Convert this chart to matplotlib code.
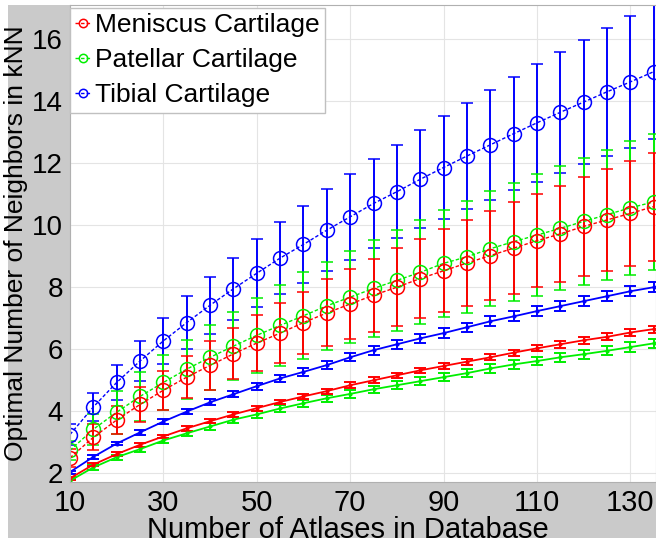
import numpy as np
import matplotlib
matplotlib.use('Agg')
import matplotlib.pyplot as plt
from matplotlib.patches import Rectangle

plt.rcParams['font.family'] = ['Liberation Sans', 'DejaVu Sans']

atlases = [10, 15, 20, 25, 30, 35, 40, 45, 50, 55, 60, 65, 70, 75, 80,
           85, 90, 95, 100, 105, 110, 115, 120, 125, 130, 135]

# kNN neighbours found when atlases are selected by the cartilage label
men_mean = [2.5, 3.16, 3.72, 4.22, 4.68, 5.1, 5.48, 5.85, 6.2, 6.52, 6.86, 7.17, 7.46,
            7.74, 8.0, 8.28, 8.53, 8.78, 9.02, 9.26, 9.5, 9.72, 9.96, 10.17, 10.38, 10.6]
men_std = [0.3, 0.42, 0.45, 0.55, 0.63, 0.68, 0.78, 0.82, 0.9, 0.97, 1.0, 1.08, 1.13,
           1.18, 1.25, 1.28, 1.34, 1.38, 1.44, 1.49, 1.5, 1.56, 1.6, 1.65, 1.7, 1.74]
pat_mean = [2.74, 3.42, 3.97, 4.48, 4.93, 5.36, 5.74, 6.1, 6.45, 6.77, 7.08, 7.4, 7.68,
            7.96, 8.22, 8.48, 8.77, 8.98, 9.24, 9.47, 9.68, 9.9, 10.12, 10.34, 10.56, 10.75]
pat_std = [0.3, 0.5, 0.7, 0.8, 0.88, 0.95, 1.04, 1.1, 1.2, 1.3, 1.4, 1.42, 1.48,
           1.55, 1.63, 1.68, 1.72, 1.8, 1.85, 1.9, 1.97, 2.0, 2.06, 2.1, 2.15, 2.2]
tib_mean = [3.25, 4.14, 4.93, 5.62, 6.27, 6.86, 7.42, 7.95, 8.45, 8.94, 9.38, 9.84, 10.27,
            10.7, 11.08, 11.48, 11.86, 12.23, 12.59, 12.95, 13.3, 13.64, 13.97, 14.3, 14.62, 14.95]
tib_std = [0.33, 0.44, 0.55, 0.65, 0.75, 0.85, 0.92, 1.0, 1.1, 1.16, 1.24, 1.32, 1.38,
           1.44, 1.5, 1.58, 1.65, 1.72, 1.78, 1.83, 1.9, 1.95, 2.0, 2.06, 2.12, 2.17]

# kNN neighbours for the pooled atlas search
men_mean2 = [1.84, 2.28, 2.62, 2.92, 3.19, 3.45, 3.68, 3.9, 4.1, 4.3, 4.48, 4.65, 4.84,
             5.0, 5.16, 5.32, 5.46, 5.6, 5.74, 5.89, 6.03, 6.16, 6.29, 6.4, 6.54, 6.65]
men_std2 = [0.05, 0.05, 0.06, 0.06, 0.06, 0.07, 0.07, 0.07, 0.08, 0.08, 0.08, 0.08, 0.09,
            0.09, 0.09, 0.09, 0.1, 0.1, 0.1, 0.1, 0.1, 0.11, 0.11, 0.11, 0.11, 0.11]
pat_mean2 = [1.76, 2.19, 2.52, 2.78, 3.06, 3.29, 3.51, 3.73, 3.9, 4.09, 4.26, 4.42, 4.56,
             4.71, 4.84, 4.97, 5.1, 5.23, 5.38, 5.51, 5.62, 5.74, 5.84, 5.95, 6.07, 6.19]
pat_std2 = [0.06, 0.07, 0.08, 0.08, 0.09, 0.09, 0.1, 0.1, 0.11, 0.11, 0.11, 0.12, 0.12,
            0.12, 0.13, 0.13, 0.13, 0.13, 0.14, 0.14, 0.14, 0.14, 0.15, 0.15, 0.15, 0.15]
tib_mean2 = [2.04, 2.53, 2.96, 3.32, 3.67, 3.99, 4.29, 4.55, 4.81, 5.06, 5.27, 5.49, 5.74,
             5.97, 6.16, 6.35, 6.52, 6.71, 6.9, 7.06, 7.23, 7.39, 7.55, 7.71, 7.87, 8.0]
tib_std2 = [0.05, 0.06, 0.06, 0.07, 0.08, 0.09, 0.1, 0.1, 0.11, 0.12, 0.12, 0.13, 0.13,
            0.14, 0.14, 0.15, 0.15, 0.15, 0.16, 0.16, 0.16, 0.16, 0.16, 0.16, 0.16, 0.16]

labels = ['Meniscus Cartilage', 'Patellar Cartilage', 'Tibial Cartilage']
red, green, blue = '#ff0000', '#00ee00', '#0000ff'

fig = plt.figure(figsize=(6.56, 5.43), dpi=100)
fig.patch.set_facecolor('white')
fig.patches.append(Rectangle((8 / 656, 5 / 543), 648 / 656, 533 / 543,
                             transform=fig.transFigure, facecolor='#cacaca',
                             edgecolor='none', zorder=-5))

ax = fig.add_axes([70 / 656, 61 / 543, 586 / 656, 477 / 543])
ax.set_zorder(2)
ax.set_facecolor('white')

ebar_kw = dict(capsize=4.5, elinewidth=1.4, capthick=1.4)
handles = {}
for mean, std, c, name in [(tib_mean, tib_std, blue, labels[2]),
                           (pat_mean, pat_std, green, labels[1]),
                           (men_mean, men_std, red, labels[0])]:
    h = ax.errorbar(atlases, mean, yerr=std, color=c, ecolor=c, ls=(0, (2.5, 1.5)),
                    lw=1.0, marker='o', ms=10, mfc='none', mec=c, mew=1.1, **ebar_kw)
    handles[name] = h

for mean, std, c in [(tib_mean2, tib_std2, blue),
                     (pat_mean2, pat_std2, green),
                     (men_mean2, men_std2, red)]:
    ax.errorbar(atlases, mean, yerr=std, color=c, ecolor=c, ls='-', lw=1.3,
                marker='.', ms=4, **ebar_kw)

ax.set_xlim(10, 135.5)
ax.set_ylim(1.72, 17.1)
ax.set_xticks(range(10, 131, 20))
ax.set_yticks(range(2, 17, 2))
ax.tick_params(axis='x', labelsize=21, length=0, pad=5)
ax.tick_params(axis='y', labelsize=20, length=0, pad=5)
ax.grid(True, color='#e4e4e4', lw=0.8)
ax.set_axisbelow(True)
for s in ax.spines.values():
    s.set_color('#b0b0b0')
    s.set_linewidth(0.8)

ax.set_xlabel('Number of Atlases in Database', fontsize=21)
ax.xaxis.set_label_coords(0.474, -0.072)
ax.set_ylabel('Optimal Number of Neighbors in kNN', fontsize=19, labelpad=3)

leg = ax.legend([handles[n][0] for n in labels], labels, loc='upper left',
                bbox_to_anchor=(0.0, 0.994), fontsize=19, handlelength=0.6,
                handletextpad=0.15, borderpad=0.2, borderaxespad=0.0,
                labelspacing=0.42, fancybox=False, framealpha=1,
                edgecolor='#c0c0c0', markerscale=0.6)

fig.savefig('out.png', dpi=100)
